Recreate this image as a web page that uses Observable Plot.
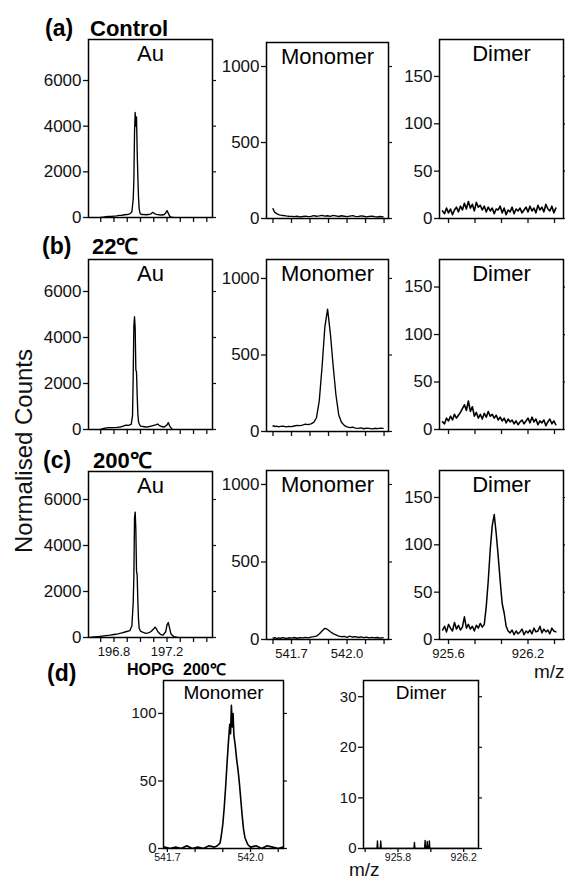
<!DOCTYPE html>
<html>
<head>
<meta charset="utf-8">
<script src="https://cdn.jsdelivr.net/npm/d3@7"></script>
<script src="https://cdn.jsdelivr.net/npm/@observablehq/plot@0.6"></script>
<style>
  html, body { margin: 0; padding: 0; background: #fff; }
  #root { position: relative; width: 565px; height: 881px; overflow: hidden; background: #fff; }
  #root svg { position: absolute; }
</style>
</head>
<body>
<div id="root"></div>
<script>
// ---------- tick values & labels ----------
const auYTicks = [0, 2000, 4000, 6000];
const monoYTicks = [0, 500, 1000];
const dimerYTicks = [0, 50, 100, 150];
const hopgMonoYTicks = [0, 50, 100];
const hopgDimerYTicks = [0, 10, 20, 30];

const auXTicks = [196.7, 196.8, 196.9, 197.0, 197.1, 197.2, 197.3, 197.4, 197.5];
const auXLabels = [196.8, 197.2];
const monoXTicks = [541.6, 541.7, 541.8, 541.9, 542.0, 542.1, 542.2];
const monoXLabels = [541.7, 542.0];
const dimerXTicks = [925.6, 925.8, 926.0, 926.2, 926.4];
const dimerXLabels = [925.6, 926.2];
const hopgMonoXTicks = [541.7, 541.8, 541.9, 542.0, 542.1];
const hopgMonoXLabels = [541.7, 542.0];
const hopgDimerXTicks = [925.6, 925.8, 926.0, 926.2];
const hopgDimerXLabels = [925.8, 926.2];

// ---------- Au spectra ----------
const auControlMz = [196.70, 196.72, 196.74, 196.76, 196.78, 196.80, 196.82, 196.84, 196.86, 196.88, 196.90, 196.92, 196.935, 196.945, 196.950, 196.955, 196.960, 196.965, 196.970, 196.975, 196.980, 196.985, 196.990, 196.995, 197.00, 197.01, 197.02, 197.04, 197.06, 197.08, 197.09, 197.10, 197.11, 197.12, 197.14, 197.16, 197.18, 197.19, 197.20, 197.21, 197.22, 197.23, 197.25];
const auControlCounts = [0, 20, 40, 50, 50, 60, 70, 90, 100, 120, 130, 160, 250, 800, 1600, 3700, 4600, 4000, 4400, 2900, 1800, 900, 400, 220, 160, 130, 140, 120, 130, 160, 220, 200, 160, 140, 120, 110, 130, 200, 300, 180, 60, 20, 0];

const au22Mz = [196.70, 196.73, 196.76, 196.79, 196.82, 196.85, 196.87, 196.89, 196.91, 196.93, 196.940, 196.945, 196.950, 196.955, 196.960, 196.965, 196.970, 196.975, 196.980, 196.985, 196.990, 197.00, 197.02, 197.04, 197.06, 197.08, 197.10, 197.12, 197.13, 197.14, 197.16, 197.18, 197.20, 197.21, 197.22, 197.24];
const au22Counts = [0, 60, 80, 80, 90, 110, 150, 190, 180, 220, 600, 2300, 4500, 4900, 4400, 2600, 2500, 1500, 700, 350, 250, 150, 130, 110, 120, 150, 180, 210, 240, 180, 130, 110, 200, 300, 150, 0];

const au200Mz = [196.62, 196.65, 196.68, 196.71, 196.74, 196.77, 196.80, 196.83, 196.86, 196.89, 196.92, 196.935, 196.945, 196.950, 196.955, 196.960, 196.965, 196.970, 196.975, 196.980, 196.985, 196.990, 197.00, 197.02, 197.04, 197.06, 197.08, 197.10, 197.11, 197.12, 197.13, 197.15, 197.17, 197.19, 197.20, 197.21, 197.22, 197.23, 197.25, 197.28];
const au200Counts = [0, 20, 40, 60, 80, 100, 130, 160, 200, 250, 300, 500, 1500, 2600, 5200, 5450, 4700, 2900, 2700, 1600, 800, 400, 280, 220, 180, 200, 260, 380, 450, 380, 260, 140, 100, 250, 550, 650, 400, 150, 40, 0];

// ---------- Monomer spectra ----------
const monoMz = [541.60, 541.605, 541.61, 541.62, 541.63, 541.64, 541.655, 541.67, 541.685, 541.70, 541.715, 541.73, 541.745, 541.76, 541.775, 541.79, 541.805, 541.82, 541.835, 541.85, 541.865, 541.88, 541.895, 541.91, 541.925, 541.94, 541.955, 541.97, 541.985, 542.00, 542.015, 542.03, 542.045, 542.06, 542.075, 542.09, 542.105, 542.12, 542.135, 542.15, 542.165, 542.18, 542.195];
const monoControlCounts = [65, 50, 40, 32, 26, 22, 20, 17, 15, 14, 12, 15, 11, 13, 16, 12, 14, 19, 15, 17, 21, 16, 18, 14, 20, 17, 13, 18, 15, 12, 16, 19, 14, 12, 17, 15, 11, 14, 16, 12, 10, 13, 11];
const mono22Counts = [35, 38, 32, 35, 30, 33, 35, 30, 34, 32, 36, 40, 38, 42, 48, 45, 50, 60, 90, 200, 420, 680, 800, 640, 430, 240, 110, 60, 40, 30, 25, 28, 22, 20, 24, 18, 22, 20, 17, 21, 19, 22, 20];
const mono200Counts = [10, 8, 12, 6, 10, 8, 12, 7, 11, 9, 13, 8, 12, 10, 14, 11, 15, 18, 22, 35, 55, 72, 65, 50, 38, 30, 22, 18, 20, 14, 22, 16, 19, 13, 17, 12, 15, 10, 14, 11, 13, 9, 12];

// ---------- Dimer spectra ----------
const dimerMz = [925.555, 925.570, 925.585, 925.600, 925.615, 925.630, 925.645, 925.660, 925.675, 925.690, 925.705, 925.720, 925.735, 925.750, 925.765, 925.780, 925.795, 925.810, 925.825, 925.840, 925.855, 925.870, 925.885, 925.900, 925.915, 925.930, 925.945, 925.960, 925.975, 925.990, 926.005, 926.020, 926.035, 926.050, 926.065, 926.080, 926.095, 926.110, 926.125, 926.140, 926.155, 926.170, 926.185, 926.200, 926.215, 926.230, 926.245, 926.260, 926.275, 926.290, 926.305, 926.320, 926.335, 926.350, 926.365, 926.380, 926.395, 926.410];
const dimerControlCounts = [8, 5, 11, 6, 10, 4, 9, 12, 7, 13, 9, 16, 10, 18, 11, 15, 8, 17, 12, 14, 9, 13, 7, 12, 8, 11, 5, 10, 9, 13, 6, 11, 4, 9, 7, 12, 5, 10, 8, 11, 6, 9, 12, 7, 13, 8, 11, 6, 14, 9, 12, 7, 15, 10, 8, 13, 6, 11];
const dimer22Counts = [8, 6, 12, 9, 14, 10, 16, 12, 15, 18, 22, 26, 20, 30, 19, 24, 14, 18, 12, 16, 11, 17, 13, 19, 14, 16, 12, 15, 10, 13, 9, 12, 7, 11, 8, 10, 6, 9, 5, 8, 10, 6, 9, 12, 7, 13, 8, 11, 5, 9, 7, 10, 4, 8, 11, 6, 9, 5];
const dimer200Counts = [10, 14, 8, 16, 12, 9, 18, 11, 15, 10, 13, 24, 12, 16, 11, 14, 9, 15, 12, 17, 13, 16, 35, 62, 95, 120, 132, 112, 88, 62, 38, 28, 14, 9, 7, 10, 5, 9, 6, 8, 11, 5, 9, 7, 10, 6, 12, 8, 9, 14, 7, 11, 8, 10, 6, 12, 9, 8];

// ---------- HOPG 200 °C ----------
const hopgMonoMz = [541.69, 541.71, 541.73, 541.75, 541.77, 541.79, 541.81, 541.83, 541.85, 541.87, 541.88, 541.89, 541.895, 541.90, 541.905, 541.91, 541.915, 541.92, 541.925, 541.928, 541.931, 541.934, 541.937, 541.94, 541.945, 541.95, 541.955, 541.96, 541.965, 541.97, 541.975, 541.98, 541.99, 542.00, 542.02, 542.04, 542.06, 542.08, 542.10, 542.115];
const hopgMonoCounts = [1, 0, 1, 0, 2, 0, 1, 0, 2, 1, 2, 4, 10, 18, 30, 45, 62, 78, 92, 85, 106, 90, 100, 84, 76, 66, 58, 48, 36, 24, 14, 8, 3, 1, 2, 0, 2, 1, 0, 1];
const hopgDimerMz = [925.60, 925.672, 925.675, 925.678, 925.692, 925.695, 925.698, 925.897, 925.900, 925.903, 925.962, 925.965, 925.968, 925.975, 925.978, 925.981, 925.988, 925.991, 925.994, 926.28];
const hopgDimerCounts = [0, 0, 1.5, 0, 0, 1.5, 0, 0, 1.2, 0, 0, 1.6, 0, 0, 1.4, 0, 0, 1.5, 0, 0];

// ---------- text ----------
const rowLabels = ["(a)", "(b)", "(c)", "(d)"];
const rowTitles = ["Control", "22℃", "200℃", "HOPG  200℃"];
const panelTitles = ["Au", "Monomer", "Dimer"];
const yAxisTitle = "Normalised Counts";
const xAxisTitle = "m/z";

// ---------- drawing ----------
const FONT = "'Liberation Sans', Arial, Helvetica, sans-serif";
const root = document.getElementById("root");

function pts(mz, counts) {
  const n = Math.min(mz.length, counts.length);
  const out = [];
  for (let i = 0; i < n; i++) out.push({mz: mz[i], c: counts[i]});
  return out;
}

function panel(o) {
  const mL = 52, mR = 8, mT = 2, mB = 30;
  const w = o.r - o.l, h = o.b - o.t;
  const labels = o.xLabels || [];
  const chart = Plot.plot({
    width: w + mL + mR,
    height: h + mT + mB,
    marginLeft: mL, marginRight: mR, marginTop: mT, marginBottom: mB,
    x: {domain: o.xDomain, label: null},
    y: {domain: o.yDomain, label: null},
    style: {fontFamily: FONT, color: "#111", background: "transparent", overflow: "visible"},
    marks: [
      Plot.axisY({ticks: o.yTicks, tickSize: 5, tickPadding: 2, fontSize: o.yFont || 17,
        tickFormat: d => String(d), stroke: "#111", strokeWidth: 1.3, label: null}),
      Plot.axisY({anchor: "right", ticks: o.yTicks, tickSize: 3, tickFormat: () => "",
        stroke: "#111", strokeWidth: 1.2, label: null}),
      Plot.axisX({ticks: o.xTicks, tickSize: o.xTickSize || 5, tickPadding: o.xPad || 4,
        fontSize: o.xFont || 13, stroke: "#111", strokeWidth: 1.3, label: null,
        tickFormat: d => labels.includes(d) ? d.toFixed(1) : ""}),
      Plot.line(o.data, {x: "mz", y: "c", stroke: "#000", strokeWidth: o.lineWidth || 1.35, clip: true}),
      Plot.frame({stroke: "#000", strokeWidth: 1.5}),
      Plot.text([o.title], {frameAnchor: "top", lineAnchor: "top", dy: o.titleDy || 6,
        fontSize: o.titleFont || 22, fill: "#000", fontFamily: FONT})
    ]
  });
  chart.style.left = (o.l - mL) + "px";
  chart.style.top = (o.t - mT) + "px";
  root.appendChild(chart);
}

// Row (a) Control
panel({l: 88, t: 39, r: 212, b: 217, xDomain: [196.608, 197.543], yDomain: [0, 7796],
  yTicks: auYTicks, xTicks: auXTicks, title: panelTitles[0], data: pts(auControlMz, auControlCounts)});
panel({l: 266, t: 42, r: 388, b: 218, xDomain: [541.565, 542.224], yDomain: [0, 1158],
  yTicks: monoYTicks, xTicks: monoXTicks, title: panelTitles[1], data: pts(monoMz, monoControlCounts)});
panel({l: 439, t: 39, r: 563, b: 218, xDomain: [925.532, 926.468], yDomain: [0, 189], lineWidth: 1.6,
  yTicks: dimerYTicks, xTicks: dimerXTicks, title: panelTitles[2], data: pts(dimerMz, dimerControlCounts)});

// Row (b) 22 °C
panel({l: 88, t: 259, r: 212, b: 429, xDomain: [196.608, 197.543], yDomain: [0, 7391],
  yTicks: auYTicks, xTicks: auXTicks, title: panelTitles[0], data: pts(au22Mz, au22Counts)});
panel({l: 266, t: 259, r: 388, b: 431, xDomain: [541.565, 542.224], yDomain: [0, 1124],
  yTicks: monoYTicks, xTicks: monoXTicks, title: panelTitles[1], data: pts(monoMz, mono22Counts)});
panel({l: 439, t: 259, r: 563, b: 429, xDomain: [925.532, 926.468], yDomain: [0, 179], lineWidth: 1.6,
  yTicks: dimerYTicks, xTicks: dimerXTicks, title: panelTitles[2], data: pts(dimerMz, dimer22Counts)});

// Row (c) 200 °C
panel({l: 88, t: 471, r: 212, b: 637, xDomain: [196.608, 197.543], yDomain: [0, 7217],
  yTicks: auYTicks, xTicks: auXTicks, xLabels: auXLabels, title: panelTitles[0], data: pts(au200Mz, au200Counts)});
panel({l: 266, t: 470, r: 388, b: 639, xDomain: [541.565, 542.224], yDomain: [0, 1090],
  yTicks: monoYTicks, xTicks: monoXTicks, xLabels: monoXLabels, title: panelTitles[1], data: pts(monoMz, mono200Counts)});
panel({l: 439, t: 470, r: 563, b: 639, xDomain: [925.532, 926.468], yDomain: [0, 178.5], lineWidth: 1.5,
  yTicks: dimerYTicks, xTicks: dimerXTicks, xLabels: dimerXLabels, title: panelTitles[2], data: pts(dimerMz, dimer200Counts)});

// Row (d) HOPG 200 °C
panel({l: 163, t: 680, r: 283, b: 848, xDomain: [541.686, 542.119], yDomain: [0, 124.4],
  yTicks: hopgMonoYTicks, xTicks: hopgMonoXTicks, xLabels: hopgMonoXLabels, title: panelTitles[1], lineWidth: 1.6,
  yFont: 15, xFont: 10.5, xTickSize: 4, xPad: 1, titleFont: 19, titleDy: 5, data: pts(hopgMonoMz, hopgMonoCounts)});
panel({l: 363, t: 680, r: 478, b: 848, xDomain: [925.59, 926.29], yDomain: [0, 33.2],
  yTicks: hopgDimerYTicks, xTicks: hopgDimerXTicks, xLabels: hopgDimerXLabels, title: panelTitles[2],
  yFont: 15, xFont: 10.5, xTickSize: 4, xPad: 1, titleFont: 19, titleDy: 5, data: pts(hopgDimerMz, hopgDimerCounts)});

// ---------- annotation text ----------
const ann = d3.create("svg").attr("width", 565).attr("height", 881)
  .style("left", "0px").style("top", "0px").style("pointer-events", "none")
  .style("font-family", FONT);

const rowText = [
  {lx: 45, ly: 36, tx: 90, ty: 36, size: 22},
  {lx: 42, ly: 254, tx: 92, ty: 254, size: 22},
  {lx: 43, ly: 468, tx: 93, ty: 468, size: 22},
  {lx: 47, ly: 681, tx: 127, ty: 675, size: 16}
];
rowText.forEach((p, i) => {
  ann.append("text").attr("x", p.lx).attr("y", p.ly).attr("font-size", 23)
    .attr("font-weight", "bold").attr("fill", "#000").text(rowLabels[i]);
  ann.append("text").attr("x", p.tx).attr("y", p.ty).attr("font-size", p.size)
    .attr("font-weight", "bold").attr("fill", "#000").attr("xml:space", "preserve")
    .style("white-space", "pre").text(rowTitles[i]);
});

ann.append("text").attr("transform", "translate(32,451) rotate(-90)")
  .attr("text-anchor", "middle").attr("font-size", 24).attr("fill", "#111").text(yAxisTitle);

ann.append("text").attr("x", 534).attr("y", 678).attr("font-size", 19).attr("fill", "#111").text(xAxisTitle);
ann.append("text").attr("x", 349).attr("y", 876).attr("font-size", 19).attr("fill", "#111").text(xAxisTitle);

root.appendChild(ann.node());
</script>
</body>
</html>
